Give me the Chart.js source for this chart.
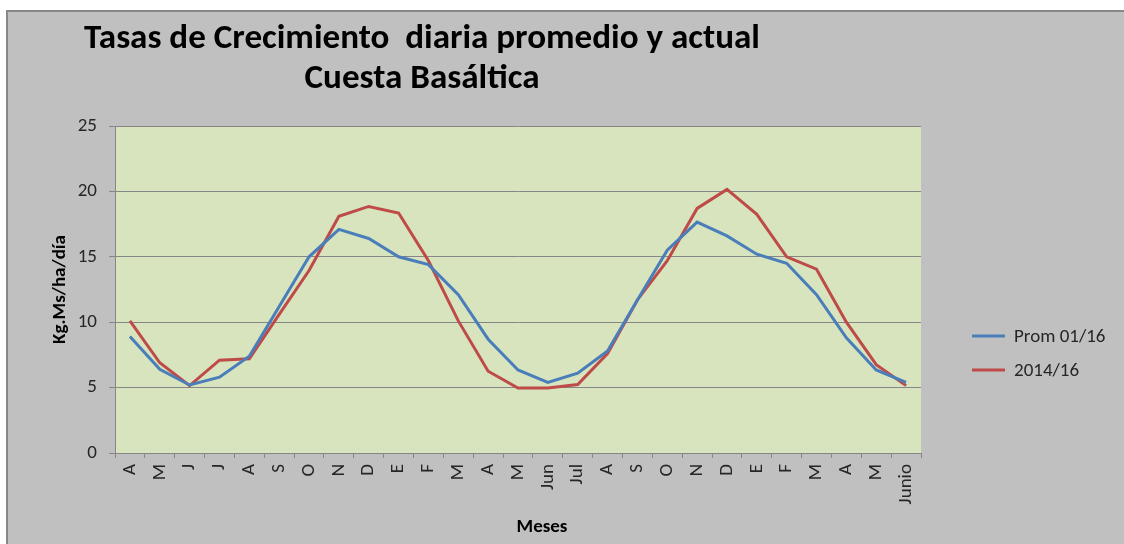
<!DOCTYPE html>
<html>
<head>
<meta charset="utf-8">
<script src="https://cdn.jsdelivr.net/npm/chart.js@4.4.1/dist/chart.umd.min.js"></script>
<style>
  html, body { margin: 0; padding: 0; background: #ffffff; overflow: hidden; }
  #frame {
    position: absolute; left: 6px; top: 10px; width: 1130px; height: 560px;
    background: #c0c0c0; border-left: 2px solid #878787; border-top: 2px solid #878787;
    box-sizing: border-box;
  }
  #chart { position: absolute; left: 0; top: 0; }
</style>
</head>
<body>
<div id="frame"></div>
<canvas id="chart" width="1124" height="544"></canvas>
<script>
// ----------------------
// DATOS
// ----------------------
const meses = ["A", "M", "J", "J", "A", "S", "O", "N", "D", "E", "F", "M", "A", "M", "Jun", "Jul",
               "A", "S", "O", "N", "D", "E", "F", "M", "A", "M", "Junio"];
const promedio = [8.9, 6.4, 5.2, 5.8, 7.4, 11.2, 15.0, 17.1, 16.4, 15.0, 14.4, 12.1, 8.7, 6.35,
                  5.4, 6.1, 7.8, 11.7, 15.5, 17.65, 16.6, 15.2, 14.5, 12.1, 8.8, 6.35, 5.4];
const actual = [10.1, 6.9, 5.15, 7.1, 7.2, 10.6, 13.95, 18.1, 18.85, 18.35, 14.7, 10.1, 6.25, 4.97,
                4.97, 5.23, 7.6, 11.7, 14.7, 18.7, 20.15, 18.25, 15.0, 14.05, 10.0, 6.75, 5.15];
const tituloLineas = ["Tasas de Crecimiento  diaria promedio y actual", "Cuesta Basáltica"];
const tituloX = "Meses";

const fuente = "Calibri, Carlito, 'Open Sans', sans-serif";
const gris = "#868686";

// fondo verde del area de trazado
const fondoPlot = {
    id: "fondoPlot",
    beforeDraw(chart) {
        const { ctx, chartArea: a } = chart;
        ctx.save();
        ctx.fillStyle = "#d7e4bd";
        ctx.fillRect(a.left, a.top, a.right - a.left, a.bottom - a.top);
        ctx.restore();
    }
};

// titulo, titulo del eje X y leyenda al estilo Excel
const tituloLeyenda = {
    id: "tituloLeyenda",
    afterDraw(chart) {
        const ctx = chart.ctx;
        ctx.save();
        ctx.fillStyle = "#000000";
        ctx.textAlign = "center";
        ctx.textBaseline = "middle";
        ctx.font = "bold 32px " + fuente;
        // ajustar el tamaño para que la primera linea mida como en Excel
        const talla = 32 * 677 / ctx.measureText(tituloLineas[0]).width;
        ctx.font = "bold " + talla.toFixed(1) + "px " + fuente;
        tituloLineas.forEach((t, i) => ctx.fillText(t, 422, 39 + i * 40));

        ctx.font = "bold 19px " + fuente;
        ctx.fillText(tituloX, 542, 527);

        ctx.textAlign = "left";
        ctx.font = "19px " + fuente;
        chart.data.datasets.forEach((ds, i) => {
            const y = 336 + i * 34;
            ctx.strokeStyle = ds.borderColor;
            ctx.lineWidth = 3;
            ctx.beginPath();
            ctx.moveTo(972, y);
            ctx.lineTo(1005, y);
            ctx.stroke();
            ctx.fillStyle = "#262626";
            ctx.fillText(ds.label, 1014, y + 1);
        });
        ctx.restore();
    }
};

new Chart(document.getElementById("chart"), {
    type: "line",
    data: {
        labels: meses,
        datasets: [
            {
                label: "Prom 01/16",
                data: promedio,
                borderColor: "#4a7ebb",
                borderWidth: 3,
                pointRadius: 0,
                tension: 0
            },
            {
                label: "2014/16",
                data: actual,
                borderColor: "#be4b48",
                borderWidth: 3,
                pointRadius: 0,
                tension: 0
            }
        ]
    },
    options: {
        responsive: false,
        animation: false,
        layout: { padding: { left: 45, top: 126, right: 203, bottom: 2 } },
        plugins: {
            legend: { display: false },
            title: { display: false },
            tooltip: { enabled: false }
        },
        scales: {
            x: {
                offset: true,
                afterFit: s => { s.height = 89; },
                grid: { offset: true, drawOnChartArea: false, color: gris, tickLength: 5 },
                border: { color: gris },
                ticks: {
                    autoSkip: false, maxRotation: 90, minRotation: 90, padding: 6,
                    color: "#262626", font: { family: fuente, size: 19 }
                }
            },
            y: {
                min: 0, max: 25,
                afterFit: s => { s.width = 70; },
                grid: { color: gris, tickLength: 6 },
                border: { color: gris },
                ticks: {
                    stepSize: 5, padding: 12,
                    color: "#262626", font: { family: fuente, size: 19 }
                },
                title: {
                    display: true, text: "Kg.Ms/ha/día", color: "#000000",
                    font: { family: fuente, size: 19, weight: "bold" }
                }
            }
        }
    },
    plugins: [fondoPlot, tituloLeyenda]
});
</script>
</body>
</html>
